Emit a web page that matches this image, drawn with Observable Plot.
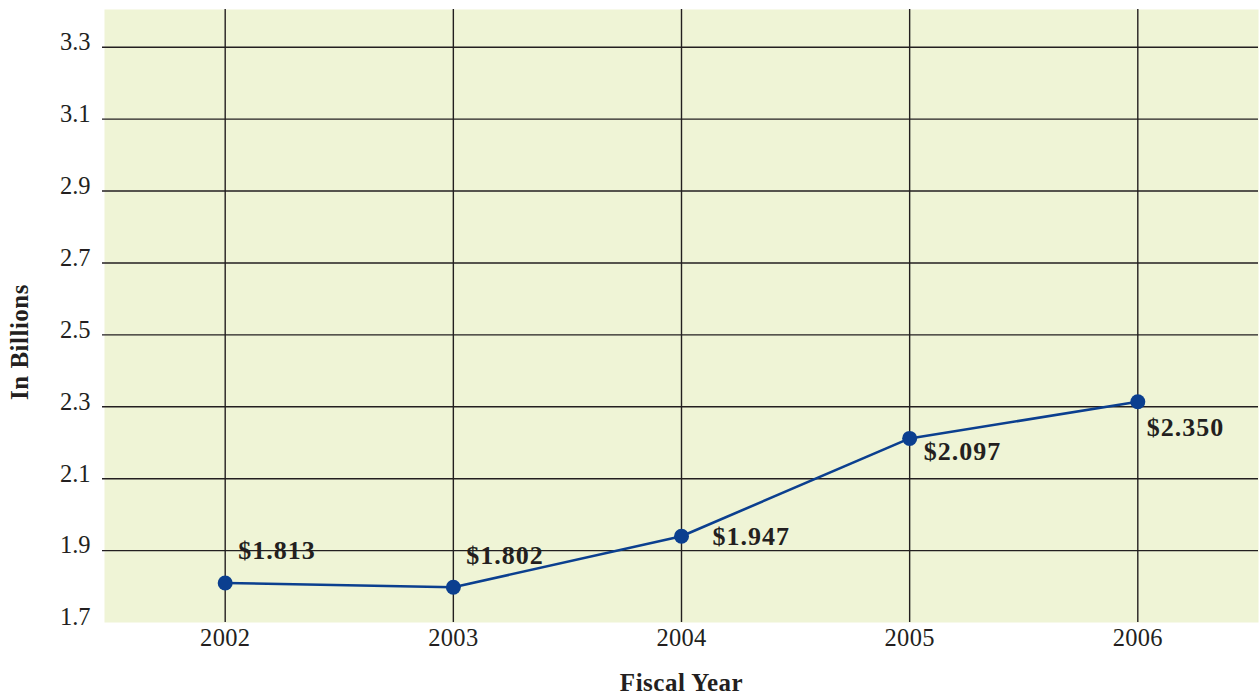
<!DOCTYPE html>
<html>
<head>
<meta charset="utf-8">
<script src="https://cdn.jsdelivr.net/npm/d3@7"></script>
<script src="https://cdn.jsdelivr.net/npm/@observablehq/plot@0.6"></script>
<style>
  html, body { margin: 0; padding: 0; background: #ffffff; }
  #chart { width: 1260px; height: 694px; }
  #chart svg text { font-family: "Liberation Serif", "Times New Roman", serif; }
</style>
</head>
<body>
<div id="chart"></div>
<script>
// Data
const years = [2002, 2003, 2004, 2005, 2006];
const values = [1.810, 1.798, 1.940, 2.212, 2.314];        // plotted positions (in billions)
const labels = ["$1.813", "$1.802", "$1.947", "$2.097", "$2.350"]; // printed labels
const yTicks = [1.7, 1.9, 2.1, 2.3, 2.5, 2.7, 2.9, 3.1, 3.3];
const xTicks = [2002, 2003, 2004, 2005, 2006];

const data = years.map((year, i) => ({year, value: values[i], label: labels[i]}));

const ink = "#231f20";
const blue = "#0b3f8f";
const serif = "Liberation Serif";

const labelStyle = {
  x: "year", y: "value", text: "label",
  textAnchor: "start", fontSize: 26, fontWeight: "bold", fill: ink,
  fontFamily: serif
};

const chart = Plot.plot({
  width: 1260,
  height: 694,
  marginLeft: 104,
  marginRight: 2,
  marginTop: 9,
  marginBottom: 72,
  style: {fontFamily: serif, background: "#ffffff", color: ink},
  x: {type: "linear", domain: [2001.471, 2006.529]},
  y: {domain: [1.7, 3.405]},
  marks: [
    Plot.frame({fill: "#eff4d6", stroke: null}),
    Plot.ruleY(yTicks.filter(t => t > 1.7), {stroke: ink, strokeWidth: 1.4, insetLeft: -2}),
    Plot.ruleX(xTicks, {stroke: ink, strokeWidth: 1.4}),
    Plot.axisY(yTicks, {
      tickSize: 0, tickPadding: 14, fontSize: 24.5, dy: -5, fontFamily: serif,
      tickFormat: d => d.toFixed(1), label: null, fill: ink
    }),
    Plot.axisX(xTicks, {
      tickSize: 0, tickPadding: 6, fontSize: 24.5, fontFamily: serif,
      tickFormat: d => String(d), label: null, fill: ink
    }),
    Plot.line(data, {x: "year", y: "value", stroke: blue, strokeWidth: 2.6}),
    Plot.dot(data, {x: "year", y: "value", r: 7.5, fill: blue, stroke: null}),
    Plot.text(data.filter(d => d.year <= 2003), {...labelStyle, dx: 13, dy: -32}),
    Plot.text(data.filter(d => d.year === 2004), {...labelStyle, dx: 31, dy: 0}),
    Plot.text(data.filter(d => d.year === 2005), {...labelStyle, dx: 14, dy: 13}),
    Plot.text(data.filter(d => d.year === 2006), {...labelStyle, dx: 9, dy: 26}),
    Plot.text(["Fiscal Year"], {
      frameAnchor: "bottom", lineAnchor: "middle", textAnchor: "middle", dy: 60,
      fontSize: 25, fontWeight: "bold", fill: ink, fontFamily: serif
    }),
    Plot.text(["In Billions"], {
      frameAnchor: "left", lineAnchor: "middle", textAnchor: "middle", rotate: -90, dx: -85, dy: 26,
      fontSize: 25, fontWeight: "bold", fill: ink, fontFamily: serif
    })
  ]
});

chart.querySelectorAll("text").forEach(t => {
  const txt = t.textContent;
  if (txt.startsWith("$")) t.style.letterSpacing = "1px";
  else if (/^\d{4}$/.test(txt)) t.style.letterSpacing = "0.3px";
  else if (txt === "In Billions" || txt === "Fiscal Year") t.style.letterSpacing = "0.5px";
});

document.getElementById("chart").appendChild(chart);
</script>
</body>
</html>
